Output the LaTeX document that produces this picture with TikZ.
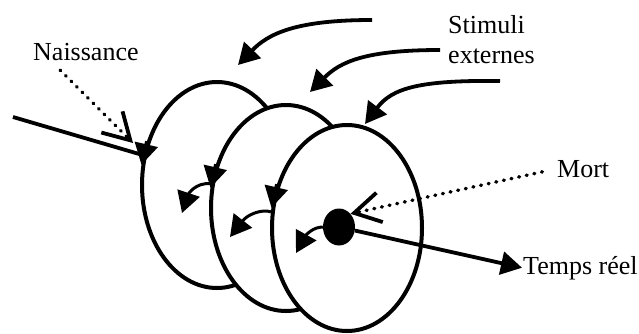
\documentclass[tikz,border=0pt]{standalone}
\usepackage{fontspec}
\setmainfont{Liberation Serif}
\usetikzlibrary{arrows.meta,shapes.geometric}

\begin{document}
\begin{tikzpicture}[x=1pt,y=-1pt,
		every node/.style={font=\fontsize{26}{30}\selectfont},
		cyc/.style={draw,ellipse,fill=white,line width=4pt,minimum width=150pt,minimum height=206pt,inner sep=0pt},
		arr/.style={line width=3.8pt,-{Triangle[length=21pt,width=23pt]}},
		barb/.style={line width=3.5pt,line cap=round,dash pattern=on 0.8pt off 7pt,-{Straight Barb[length=26pt,width=30pt,line width=3.8pt]}}]
		\useasboundingbox (0,0) rectangle (639,333);
		% the three cycles and death
		\node[cyc] (C1) at (217,185) {};
		\node[cyc] (C2) at (286,208) {};
		\node[cyc] (C3) at (347,228) {};
		\node[fill,ellipse,minimum width=32pt,minimum height=37pt,inner sep=0pt] (D) at (339,227) {};
		% labels
		\node[anchor=base west,inner sep=0pt] (N) at (33,60) {Naissance};
		\node[anchor=north west,inner sep=0pt,align=left] (S) at (448,15) {Stimuli\\externes};
		\node[anchor=base west,inner sep=0pt] (M) at (557,177) {Mort};
		\node[anchor=base west,inner sep=1pt] (T) at (522,274) {Temps réel};
		% free ends
		\coordinate (P) at (13,117);
		\coordinate (P1) at (60,70);
		\coordinate (P2) at (133,143);
		\coordinate (S1) at (372,20);
		\coordinate (S2) at (440,50);
		\coordinate (S3) at (500,81);
		\coordinate (E1) at (238,65);
		\coordinate (E2) at (310,92);
		\coordinate (E3) at (365,124);
		\coordinate (Q1) at (182,213);
		\coordinate (Q2) at (230,237);
		\coordinate (Q3) at (296,253);
		% time axis
		\draw[line width=3.8pt] (P)--(C1.158);
		\draw[arr] (D)--(T.west);
		\draw[arr] (C1.148)--(C1.165);
		\draw[arr] (C2.148)--(C2.165);
		\draw[arr] (C3.148)--(C3.165);
		% jumps from one cycle to the next
		\draw[arr,line width=3pt] (C2.162) .. controls (195,182) and (188,195) .. (Q1);
		\draw[arr,line width=3pt] (C3.168) .. controls (262,209) and (248,214) .. (Q2);
		\draw[arr,line width=3pt] (D.west) .. controls (313,227) and (306,235) .. (Q3);
		% stimuli
		\draw[arr] (S1) .. controls (295,20) and (268,34) .. (E1);
		\draw[arr] (S2) .. controls (365,50) and (340,62) .. (E2);
		\draw[arr] (S3) .. controls (420,80) and (392,88) .. (E3);
		% birth and death
		\draw[barb] (P1)--(P2);
		\draw[barb,shorten <=15pt] (M.west)--(D.north east);
\end{tikzpicture}
\end{document}
